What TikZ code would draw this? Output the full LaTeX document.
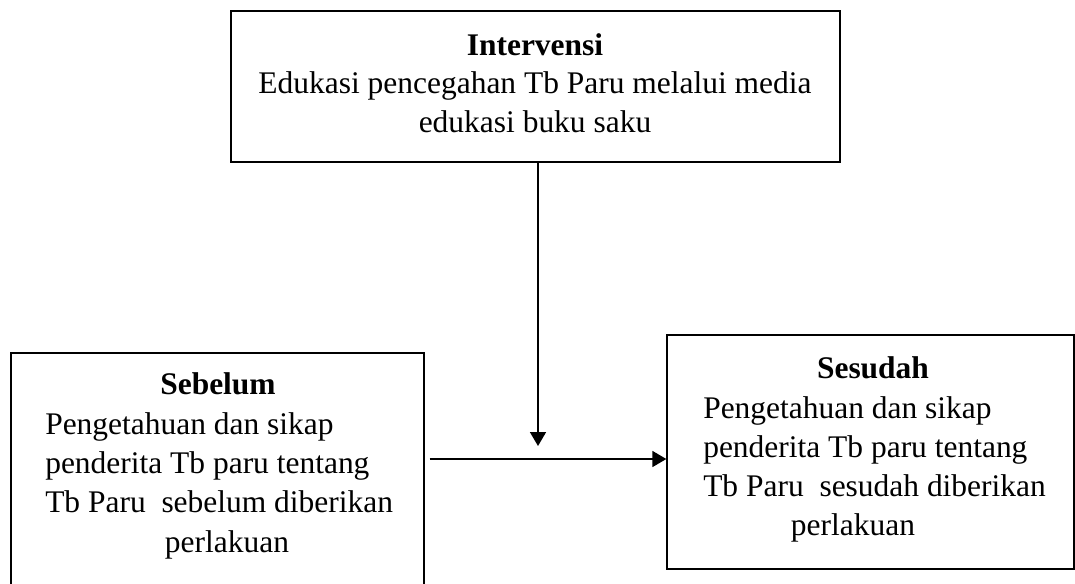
\documentclass[tikz,border=0pt]{standalone}
\usepackage{fontspec}
\setmainfont{Liberation Serif}
\usetikzlibrary{arrows.meta,calc}
\begin{document}
\begin{tikzpicture}[x=0.75pt,y=-0.75pt,
  box/.style={draw=black,line width=1pt,inner sep=0pt,rectangle},
  txt/.style={inner sep=0pt,font=\fontsize{23.6}{28}\selectfont},
  ttl/.style={inner sep=0pt,font=\fontsize{23.6}{28}\selectfont\bfseries},
  arr/.style={line width=1.25pt,-{Triangle[width=12pt,length=10.5pt]}}]
\useasboundingbox[fill=white] (0,0) rectangle (1075,583);
% boxes
\node[box,minimum width=456.75pt,minimum height=113.25pt] (top) at (535.5,86.5) {};
\node[box,minimum width=309.75pt,minimum height=181.5pt] (left) at (217.5,474) {};
\node[box,minimum width=305.25pt,minimum height=175.5pt] (right) at (870.5,452) {};
% top text
\node[ttl,anchor=base] (t1) at (535,55) {Intervensi};
\node[txt,anchor=base] (t2) at (535,93) {Edukasi pencegahan Tb Paru melalui media};
\node[txt,anchor=base] (t3) at (535,132) {edukasi buku saku};
% left text
\node[ttl,anchor=base] (l0) at (218,394) {Sebelum};
\node[txt,anchor=base west] (l1) at (45,434) {Pengetahuan dan sikap};
\node[txt,anchor=base west] (l2) at (45,473) {penderita Tb paru tentang};
\node[txt,anchor=base west] (l3) at (45,512) {Tb Paru\ \ sebelum diberikan};
\node[txt,anchor=base] (l4) at (227,552) {perlakuan};
% right text
\node[ttl,anchor=base] (r0) at (873,378) {Sesudah};
\node[txt,anchor=base west] (r1) at (703,418) {Pengetahuan dan sikap};
\node[txt,anchor=base west] (r2) at (703,457) {penderita Tb paru tentang};
\node[txt,anchor=base west] (r3) at (703,496) {Tb Paru\ \ sesudah diberikan};
\node[txt,anchor=base] (r4) at (853,535) {perlakuan};
% connectors
\coordinate (vtip) at (538,446);
\coordinate (hy) at (0,459);
\draw[arr] (top.south -| vtip) -- (vtip);
\draw[arr,shorten <=3.75pt] (left.east |- hy) -- (right.west |- hy);
\end{tikzpicture}
\end{document}
